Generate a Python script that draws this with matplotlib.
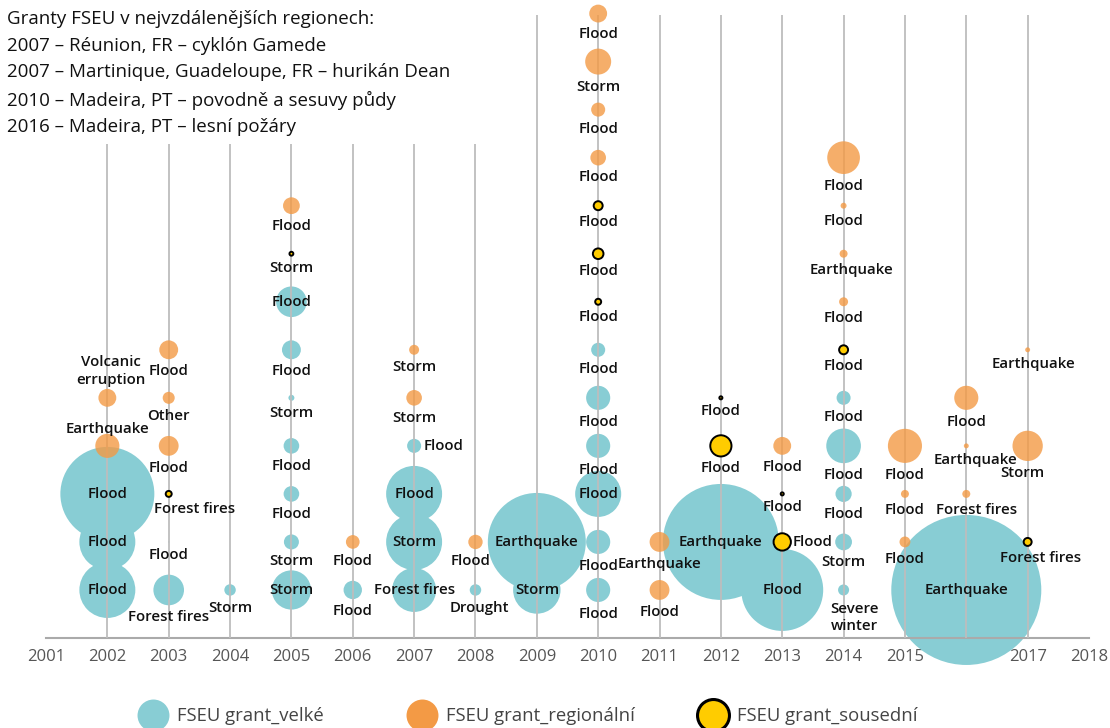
import matplotlib.pyplot as plt
from matplotlib.lines import Line2D
from matplotlib.patches import Rectangle
import numpy as np

plt.rcParams['font.family'] = ['Open Sans', 'DejaVu Sans']

# one entry per grant; row = stacking level within the year
# kind: v = velké (major), r = regionální, s = sousední (neighbouring)
# amount in mil. EUR
years = [2002, 2002, 2002, 2002, 2002,
         2003, 2003, 2003, 2003, 2003, 2003,
         2004,
         2005, 2005, 2005, 2005, 2005, 2005, 2005, 2005, 2005,
         2006, 2006,
         2007, 2007, 2007, 2007, 2007, 2007,
         2008, 2008,
         2009, 2009,
         2010, 2010, 2010, 2010, 2010, 2010, 2010, 2010, 2010, 2010, 2010, 2010, 2010,
         2011, 2011,
         2012, 2012, 2012,
         2013, 2013, 2013, 2013,
         2014, 2014, 2014, 2014, 2014, 2014, 2014, 2014, 2014, 2014,
         2015, 2015, 2015,
         2016, 2016, 2016, 2016,
         2017, 2017, 2017]
rows = [1, 2, 3, 4, 5,
        1, 2, 3, 4, 5, 6,
        1,
        1, 2, 3, 4, 5, 6, 7, 8, 9,
        1, 2,
        1, 2, 3, 4, 5, 6,
        1, 2,
        1, 2,
        1, 2, 3, 4, 5, 6, 7, 8, 9, 10, 11, 12, 13,
        1, 2,
        2, 4, 5,
        1, 2, 3, 4,
        1, 2, 3, 4, 5, 6, 7, 8, 9, 10,
        2, 3, 4,
        1, 3, 4, 5,
        2, 4, 6]
kinds = ['v', 'v', 'v', 'r', 'r',
         'v', 'v', 's', 'r', 'r', 'r',
         'v',
         'v', 'v', 'v', 'v', 'v', 'v', 'v', 's', 'r',
         'v', 'r',
         'v', 'v', 'v', 'v', 'r', 'r',
         'v', 'r',
         'v', 'v',
         'v', 'v', 'v', 'v', 'v', 'v', 's', 's', 's', 'r', 'r', 'r', 'r',
         'r', 'r',
         'v', 's', 's',
         'v', 's', 's', 'r',
         'v', 'v', 'v', 'v', 'v', 's', 'r', 'r', 'r', 'r',
         'r', 'r', 'r',
         'v', 'r', 'r', 'r',
         's', 'r', 'r']
amounts = [167, 167, 471, 31, 17,
           50, 0.1, 1.9, 21, 7.7, 19,
           7,
           82, 12, 13, 13, 1.9, 19, 50, 0.8, 15,
           18, 10,
           103, 167, 167, 10.5, 13, 5.3,
           7, 11,
           120, 512,
           31, 31, 113, 31, 31, 10.5, 1.9, 6, 4.3, 13, 10.5, 36, 17,
           21, 21,
           717, 24, 0.5,
           358, 16, 0.5, 17,
           6.5, 15, 14, 64, 10.5, 4.3, 4.3, 3.4, 1.9, 57,
           6.3, 3.4, 62,
           1200, 3.4, 1.3, 31,
           3.4, 49, 1.3]
labels = ['Flood', 'Flood', 'Flood', 'Earthquake', 'Volcanic\nerruption',
          'Forest fires', 'Flood', 'Forest fires', 'Flood', 'Other', 'Flood',
          'Storm',
          'Storm', 'Storm', 'Flood', 'Flood', 'Storm', 'Flood', 'Flood', 'Storm', 'Flood',
          'Flood', 'Flood',
          'Forest fires', 'Storm', 'Flood', 'Flood', 'Storm', 'Storm',
          'Drought', 'Flood',
          'Storm', 'Earthquake',
          'Flood', 'Flood', 'Flood', 'Flood', 'Flood', 'Flood', 'Flood', 'Flood', 'Flood',
          'Flood', 'Flood', 'Storm', 'Flood',
          'Flood', 'Earthquake',
          'Earthquake', 'Flood', 'Flood',
          'Flood', 'Flood', 'Flood', 'Flood',
          'Severe\nwinter', 'Storm', 'Flood', 'Flood', 'Flood', 'Flood', 'Flood', 'Earthquake',
          'Flood', 'Flood',
          'Flood', 'Flood', 'Flood',
          'Earthquake', 'Forest fires', 'Earthquake', 'Flood',
          'Forest fires', 'Storm', 'Earthquake']

# label placement: c = on bubble, b = below, a = above, r = right
label_pos = ['c', 'c', 'c', 'a', 'a',
             'b', 'b', 'b', 'b', 'b', 'b',
             'b',
             'c', 'b', 'b', 'b', 'b', 'b', 'c', 'b', 'b',
             'b', 'b',
             'c', 'c', 'c', 'r', 'b', 'b',
             'b', 'b',
             'c', 'c',
             'b', 'b', 'c', 'b', 'b', 'b', 'b', 'b', 'b', 'b', 'b', 'b', 'b',
             'b', 'b',
             'c', 'b', 'b',
             'c', 'r', 'b', 'b',
             'b', 'b', 'b', 'b', 'b', 'b', 'b', 'b', 'b', 'b',
             'b', 'b', 'b',
             'c', 'b', 'b', 'b',
             'b', 'b', 'b']
# horizontal nudges of some labels (pixels)
label_dx = {(2003, 3): 26, (2017, 2): 13, (2016, 3): 10, (2014, 1): 11,
            (2014, 8): 8, (2016, 4): 9, (2017, 6): 6, (2017, 4): -5,
            (2008, 2): -5, (2008, 1): 4, (2002, 5): 4}

kind_order = ['v', 'r', 's']
kind_names = {'v': 'FSEU grant_velké', 'r': 'FSEU grant_regionální',
              's': 'FSEU grant_sousední'}
kind_colors = {'v': '#88cdd4', 'r': '#f39a45', 's': '#ffcc00'}

title = ('Granty FSEU v nejvzdálenějších regionech:\n'
         '2007 – Réunion, FR – cyklón Gamede\n'
         '2007 – Martinique, Guadeloupe, FR – hurikán Dean\n'
         '2010 – Madeira, PT – povodně a sesuvy půdy\n'
         '2016 – Madeira, PT – lesní požáry')

W, H = 1110, 728
fig = plt.figure(figsize=(W / 100, H / 100), dpi=100)
ax = fig.add_axes([46 / W, 1 - 638 / H, (1089 - 46) / W, (638 - 15) / H])
ax.set_xlim(2001, 2018)
ax.set_ylim(0, 12.97)

years_a = np.array(years)
rows_a = np.array(rows)
kinds_a = np.array(kinds)
amounts_a = np.array(amounts, dtype=float)
radius_px = 75 * np.sqrt(amounts_a / 1200)
sizes = (2 * radius_px * 0.72) ** 2

ax.vlines(range(2002, 2018), 0, 12.97, color='#bdbdbd', lw=1.3, zorder=3)

for k, z, a in [('v', 2, 1.0), ('r', 4, 0.8), ('s', 5, 1.0)]:
    m = kinds_a == k
    ax.scatter(years_a[m], rows_a[m], s=sizes[m], color=kind_colors[k], alpha=a,
               edgecolors='black' if k == 's' else 'none',
               linewidths=1.4 if k == 's' else 0, zorder=z, clip_on=False)

for yr, rw, lab, pos, r in zip(years, rows, labels, label_pos, radius_px):
    nl = lab.count('\n')
    dx = label_dx.get((yr, rw), 0)
    ha = 'center'
    if pos == 'c':
        dy = 0
    elif pos == 'b':
        dy = -(r + 12 + nl * 10)
    elif pos == 'a':
        dy = r + 5 + nl * 13
    else:
        dy = 0
        dx = r + 2
        ha = 'left'
    ax.annotate(lab, (yr, rw), xytext=(dx * 0.72, dy * 0.72), textcoords='offset points',
                ha=ha, va='center', fontsize=10.8, fontweight='semibold',
                color='#111111', linespacing=1.3, zorder=6, annotation_clip=False)

for s in ['left', 'right', 'top']:
    ax.spines[s].set_visible(False)
ax.spines['bottom'].set_color('#aaaaaa')
ax.spines['bottom'].set_linewidth(1.5)
ax.set_yticks([])
ax.set_xticks(range(2001, 2019))
ax.tick_params(axis='x', length=0, pad=8, labelsize=12, labelcolor='#555555')

# white panel behind the note so the grid lines stop under it
fig.add_artist(Rectangle((0, 1 - 144 / H), 505 / W, 144 / H, transform=fig.transFigure,
                         facecolor='white', edgecolor='none', zorder=1))
fig.text(7 / W, 1 - 10 / H, title, ha='left', va='top', fontsize=13.5,
         linespacing=1.62, color='#111111', zorder=2)

# one legend per series so each sits where it does in the original
legend_x = [142, 411, 702]
for k, lx in zip(kind_order, legend_x):
    h = Line2D([], [], ls='', marker='o', markersize=23, color=kind_colors[k],
               markeredgecolor='black' if k == 's' else kind_colors[k],
               markeredgewidth=2.2 if k == 's' else 0)
    fig.legend([h], [kind_names[k]], loc='center left', bbox_to_anchor=(lx / W, 1 - 716 / H),
               frameon=False, fontsize=13.3, labelcolor='#444444', borderpad=0,
               borderaxespad=0, handletextpad=0.7, handlelength=1.2)

plt.savefig('out.png', dpi=100)
